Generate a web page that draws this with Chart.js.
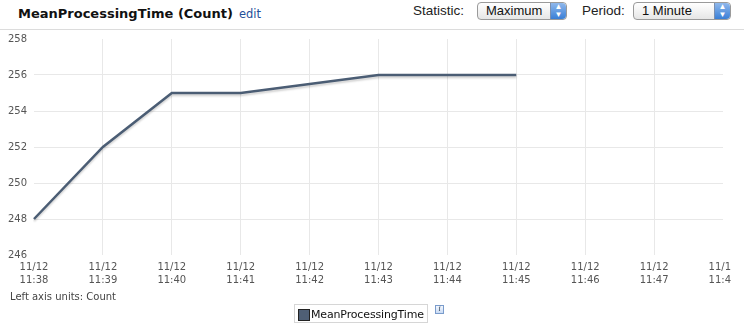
<!DOCTYPE html>
<html><head><meta charset="utf-8">
<script src="https://cdn.jsdelivr.net/npm/chart.js@4/dist/chart.umd.min.js"></script>
<style>
html,body{margin:0;padding:0;background:#fff;width:744px;height:327px;overflow:hidden;position:relative;font-family:"DejaVu Sans",Verdana,sans-serif;}
#title{position:absolute;left:18px;top:6px;font-weight:bold;font-size:13px;color:#111;white-space:nowrap;}
#title span{font-weight:normal;font-size:11.5px;color:#1f4f99;margin-left:6px;}
#sep{position:absolute;left:0;top:29px;width:744px;height:1px;background:#dcdcdc;}
.lbl{position:absolute;top:3px;font-family:"Liberation Sans",Arial,sans-serif;font-size:13.5px;color:#222;}
.sel{position:absolute;top:2px;height:16px;border:1px solid #9a9a9a;border-radius:4px;background:linear-gradient(#ffffff,#e6e6e6);font-family:"Liberation Sans",Arial,sans-serif;font-size:13px;line-height:16px;color:#111;box-sizing:content-box;}
.sel .t{position:absolute;left:8px;top:0;}
.sel .a{position:absolute;right:0;top:0;width:15px;height:16px;border-radius:0 4px 4px 0;background:linear-gradient(#8fb8ec,#3a7fd6);border-left:1px solid #7a8fb0;color:#fff;font-size:8px;line-height:8px;text-align:center;}
#wrap{position:absolute;left:0;top:30px;width:731px;height:270px;overflow:hidden;}
#cv{position:absolute;left:0;top:0;}
#units{position:absolute;left:10px;top:291px;font-size:10px;color:#444;}
#legend{position:absolute;left:294px;top:304px;width:134px;height:19px;border:1px solid #d6d6d6;box-sizing:border-box;font-size:11px;color:#111;}
#legend .sq{position:absolute;left:3px;top:4px;width:10px;height:10px;border:1px solid #222;}
#legend .tx{position:absolute;left:16px;top:3px;white-space:nowrap;letter-spacing:-0.15px;}
#info{position:absolute;left:435px;top:305px;width:7px;height:7px;border:1px solid #7a9ccc;background:linear-gradient(#f4f8ff,#c9dbf4);font-size:7px;line-height:7px;text-align:center;color:#234;font-style:italic;font-family:"DejaVu Serif",serif;}
</style></head>
<body>
<div id="title">MeanProcessingTime (Count)<span>edit</span></div>
<div class="lbl" style="left:413px;">Statistic:</div>
<div class="sel" style="left:477px;width:88px;"><span class="t">Maximum</span><span class="a">▲<br>▼</span></div>
<div class="lbl" style="left:582px;">Period:</div>
<div class="sel" style="left:633px;width:96px;"><span class="t">1 Minute</span><span class="a">▲<br>▼</span></div>
<div id="sep"></div>
<div id="wrap"><canvas id="cv" width="770" height="270" style="width:770px;height:270px"></canvas></div>
<div id="units">Left axis units: Count</div>
<div id="legend"><div class="sq" id="lsq"></div><div class="tx" id="ltx"></div></div>
<div id="info">i</div>
<script>
const seriesName = "MeanProcessingTime";
const dates = ["11/12","11/12","11/12","11/12","11/12","11/12","11/12","11/12","11/12","11/12","11/12"];
const times = ["11:38","11:39","11:40","11:41","11:42","11:43","11:44","11:45","11:46","11:47","11:48"];
const values = [248, 252, 255, 255, null, 256, 256, 256, null, null, null];
const yMin = 246, yMax = 258, yStep = 2;
const lineColor = "#4b5d74";

const labels = dates.map((d,i)=>[d, times[i]]);
const lastIdx = labels.length - 1;
document.getElementById('ltx').textContent = seriesName;
document.getElementById('lsq').style.background = "#4f5f75";

const shadowPlugin = {
  id:'shadow',
  beforeDatasetDraw(chart){ const c=chart.ctx; c.save(); c.shadowColor='rgba(0,0,0,0.18)'; c.shadowOffsetY=2; c.shadowOffsetX=0; c.shadowBlur=2; },
  afterDatasetDraw(chart){ chart.ctx.restore(); }
};

function xGridColor(c){
  return (c.index === 0 || c.index >= lastIdx) ? 'rgba(0,0,0,0)' : '#e8e8e8';
}

new Chart(document.getElementById('cv'), {
  type:'line',
  data:{labels, datasets:[{label:seriesName, data:values, borderColor:lineColor, borderWidth:2.5, pointRadius:0, tension:0, spanGaps:true, fill:false}]},
  options:{
    responsive:false, animation:false, devicePixelRatio:1,
    layout:{padding:{left:8, top:9, right:47, bottom:0}},
    plugins:{legend:{display:false}, tooltip:{enabled:false}},
    scales:{
      x:{
        offset:false,
        border:{display:false},
        grid:{drawTicks:false, color:xGridColor, lineWidth:1},
        ticks:{padding:6, color:'#555', font:{family:'"DejaVu Sans"', size:10, lineHeight:1.3}, maxRotation:0, autoSkip:false},
        afterFit(s){ s.height = 45; }
      },
      y:{
        min:yMin, max:yMax,
        border:{display:false},
        grid:{drawTicks:false, color:(c)=> (c.tick && (c.tick.value===yMin || c.tick.value===yMax)) ? 'rgba(0,0,0,0)' : '#e8e8e8', lineWidth:1},
        ticks:{stepSize:yStep, crossAlign:'far', color:'#555', font:{family:'"DejaVu Sans"', size:10}},
        afterFit(s){ s.width = 26; }
      }
    }
  },
  plugins:[shadowPlugin]
});
</script>
</body></html>
